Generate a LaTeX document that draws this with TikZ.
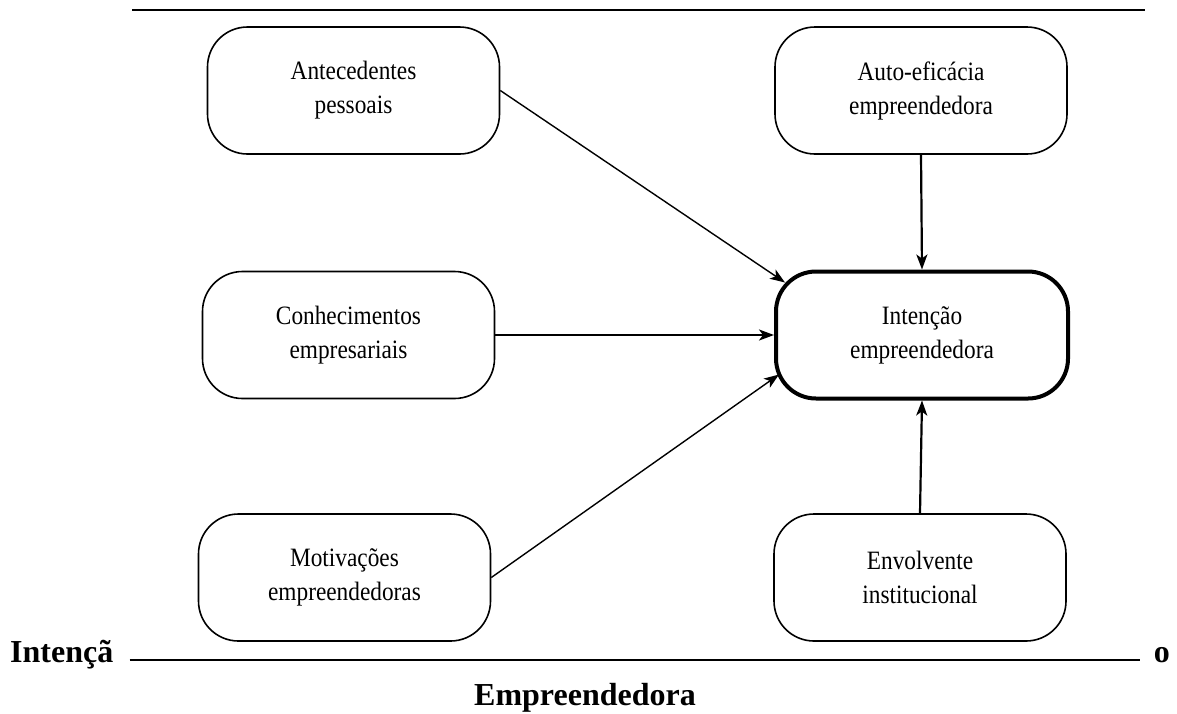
\documentclass[tikz,border=0pt]{standalone}
\usepackage{fontspec}
\setmainfont{Liberation Serif}
\newfontfamily\boxfont[FakeStretch=0.88]{Liberation Serif}
\usetikzlibrary{arrows.meta}

\begin{document}
\begin{tikzpicture}[x=1pt,y=-1pt,
  box/.style={draw,line width=1.6pt,rounded corners=40pt,minimum width=292pt,minimum height=127pt,align=center,font=\boxfont\fontsize{26.5}{34}\selectfont},
  mainbox/.style={box,line width=4pt},
  arr/.style={-{Stealth[length=15pt,width=11pt,inset=4pt]},line width=1.4pt},
  thickarr/.style={arr,line width=2.2pt},
  capt/.style={font=\fontsize{32}{38}\selectfont\bfseries,inner sep=0pt},
  rule/.style={line width=2pt}]
\useasboundingbox (0,0) rectangle (1177,713);
% top rule
\coordinate (topl) at (132,10);
\coordinate (topr) at (1145,10);
\draw[rule] (topl) -- (topr);
% boxes
\node[box] (ant) at (353.5,90.5) {Antecedentes\\pessoais};
\node[box] (auto) at (921,90.5) {Auto-eficácia\\empreendedora};
\node[box] (con) at (348.5,335) {Conhecimentos\\empresariais};
\node[mainbox] (int) at (922,335) {Intenção\\empreendedora};
\node[box] (mot) at (344.5,577.5) {Motivações\\empreendedoras};
\node[box] (env) at (920,577.5) {Envolvente\\institucional};
% arrows
\draw[arr] (ant.east) -- ([shift={(11pt,-13pt)}]int.north west);
\draw[thickarr] (con.east) -- (int.west);
\draw[arr] (mot.east) -- ([shift={(5pt,26pt)}]int.south west);
\draw[thickarr] (auto.south) -- (int.north);
\draw[thickarr] (env.north) -- (int.south);
% caption
\node[capt,anchor=mid west] (capl) at (10,660) {Intençã};
\node[capt,anchor=mid east] (capr) at (1170,660) {o};
\draw[rule,shorten <=16pt,shorten >=14pt] (capl.mid east) -- (capr.mid west);
\node[capt,anchor=base] (capb) at (585,705) {Empreendedora};
\end{tikzpicture}
\end{document}
